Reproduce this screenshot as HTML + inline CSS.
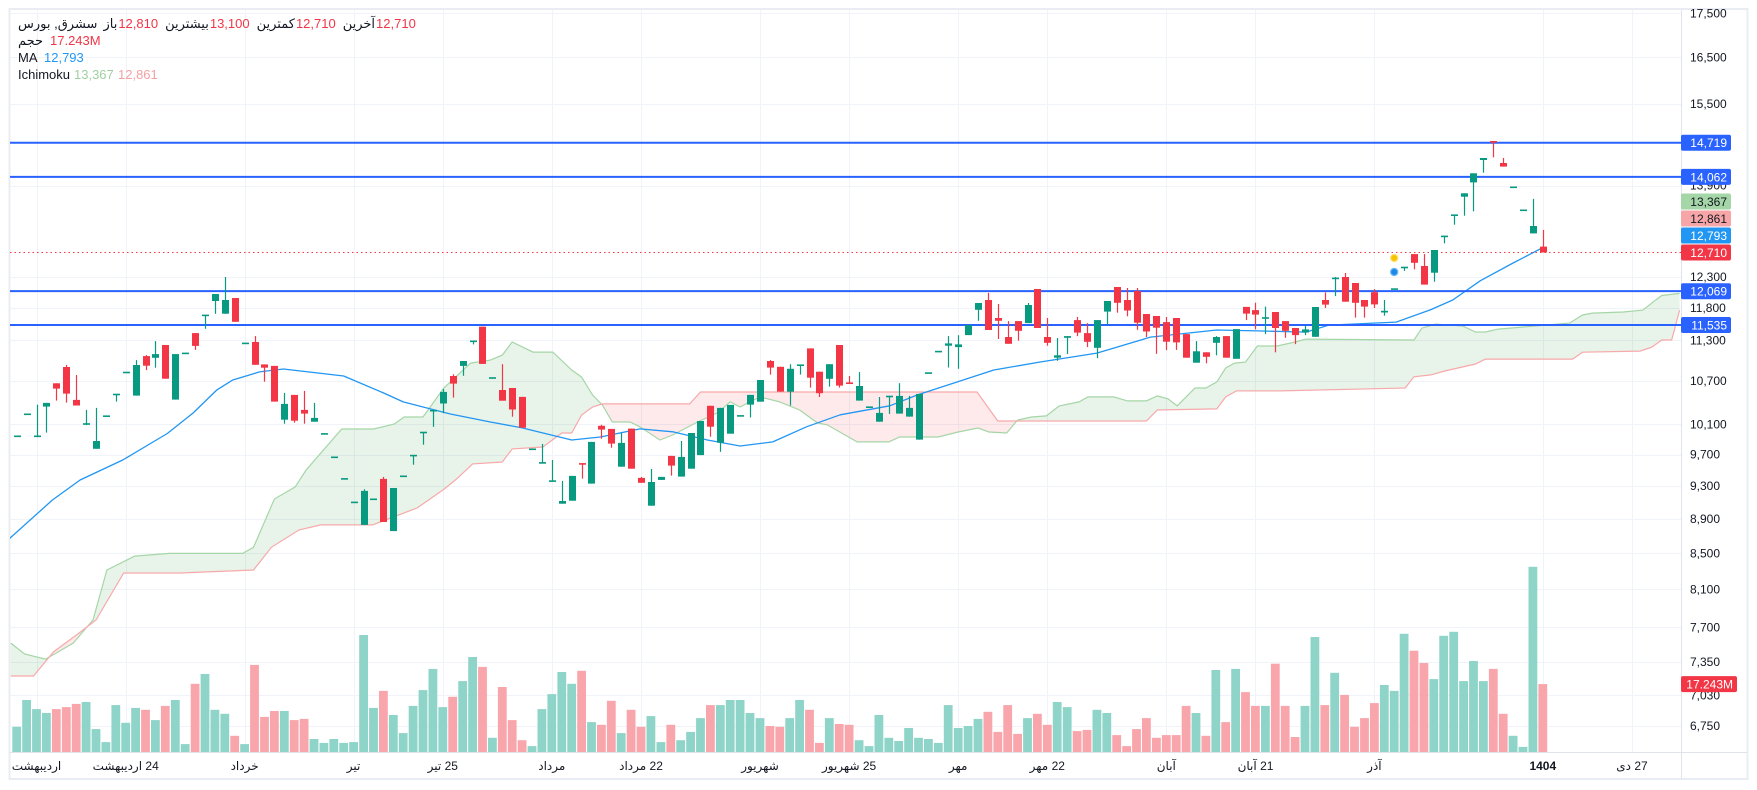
<!DOCTYPE html>
<html><head><meta charset="utf-8">
<style>
html,body{margin:0;padding:0;background:#fff;width:1757px;height:790px;overflow:hidden;font-family:"Liberation Sans","DejaVu Sans",sans-serif;}
#wrap{position:relative;width:1757px;height:790px;}
svg{position:absolute;left:0;top:0;}
.lg{position:absolute;font-size:13px;white-space:nowrap;color:#131722;line-height:16px;}
.row{position:absolute;left:18px;top:16px;display:flex;direction:ltr;font-size:13px;line-height:16px;white-space:nowrap;color:#131722;}
.row span{display:inline-block;}
.tl{position:absolute;top:759px;font-size:12px;color:#131722;transform:translateX(-50%);white-space:nowrap;line-height:14px;}
</style></head>
<body>
<div id="wrap">
<svg id="chart" width="1757" height="790"></svg>
<div class="row">
<span dir="rtl">سشرق, بورس</span>
<span dir="rtl" style="margin-left:6px">باز</span>
<span style="color:#f23645;margin-left:1px">12,810</span>
<span dir="rtl" style="margin-left:7px">بیشترین</span>
<span style="color:#f23645;margin-left:1px">13,100</span>
<span dir="rtl" style="margin-left:7px">کمترین</span>
<span style="color:#f23645;margin-left:1px">12,710</span>
<span dir="rtl" style="margin-left:7px">آخرین</span>
<span style="color:#f23645;margin-left:1px">12,710</span>
</div>
<div class="lg" style="left:18px;top:33px;">حجم</div>
<div class="lg" style="left:50px;top:33px;color:#f23645">17.243M</div>
<div class="lg" style="left:18px;top:50px;">MA</div>
<div class="lg" style="left:44px;top:50px;color:#2196f3">12,793</div>
<div class="lg" style="left:18px;top:67px;">Ichimoku</div>
<div class="lg" style="left:74px;top:67px;color:#9fd0a0">13,367</div>
<div class="lg" style="left:118px;top:67px;color:#f4a0a3">12,861</div>
</div>
<script>
// ---- data ----
const openP=[9940,10238,9930,10344,10670,10906,10436,10100,9777,10211,10510,10826,10497,11066,11040,11231,10440,11105,11412,11680,11911,11710,11960,11255,11276,10943,10921,10164,10506,10298,10137,9972,9666,9390,9100,8830,9138,9390,8758,9423,9685,9990,10285,10385,10775,10921,11285,11510,10746,10576,10604,10478,9770,9590,9360,9084,9120,9590,9331,10081,10040,9545,10044,9403,9060,9377,9683,9419,9520,9694,10354,9856,9976,10215,10371,10412,10993,10908,10552,10930,11180,10837,10736,11231,10680,10426,10335,10137,10478,10247,10205,9896,10817,11132,11220,11200,11381,11773,11927,11644,11352,11596,11565,12104,11352,11042,11340,11612,11412,11190,11743,12137,11927,12070,11706,11675,11580,11644,11396,10968,11122,11265,11366,11027,11818,11768,11633,11738,11596,11489,11420,11354,11927,12270,12300,12202,11927,12053,11730,12103,12455,12683,12482,12371,12985,13355,13694,13960,14382,14747,14325,13867,13448,13039,12810];
const highP=[9940,10238,10370,10395,10670,10935,10789,10298,10325,10211,10515,10826,11007,11080,11290,11231,11095,11105,11412,11690,12023,12300,11960,11255,11366,10943,10921,10534,10506,10562,10395,9972,9666,9390,9100,9261,9138,9415,9277,9423,9690,9993,10288,10590,10800,10993,11290,11510,10746,10947,10604,10478,9770,9840,9631,9365,9428,9590,9866,10095,10040,9985,10044,9415,9515,9415,9683,9879,9985,10146,10354,10325,10367,10215,10506,10718,11007,10908,10947,10935,11180,10837,10947,11231,10775,10832,10335,10477,10490,10672,10492,10520,10817,11132,11366,11380,11534,11880,12043,11864,11596,11596,11880,12104,11644,11336,11366,11660,11565,11612,11911,12137,12120,12120,11706,11675,11660,11644,11396,11290,11122,11366,11366,11473,11818,11885,11822,11738,11596,11489,11523,11816,12050,12300,12366,12202,11927,12103,11927,12103,12460,12683,12683,12752,12988,13362,13756,14130,14421,14747,14421,13867,13448,13653,13100];
const lowP=[9940,10238,9930,9990,10427,10399,10358,10090,9777,10211,10412,10826,10497,10860,10896,10736,10440,11105,11158,11477,11710,11710,11586,11255,10937,10694,10412,10110,10123,10110,10137,9972,9666,9390,9100,8830,9138,8864,8758,9423,9570,9830,10068,10252,10469,10778,11240,10952,10746,10426,10205,10055,9770,9590,9360,9084,9120,9394,9331,9909,9790,9545,9520,9342,9060,9377,9432,9419,9520,9694,9935,9737,9976,10215,10193,10412,10795,10552,10358,10795,10610,10477,10624,10610,10665,10426,10335,10137,10243,10247,10205,9896,10817,11132,10898,10880,11381,11600,11458,11321,11250,11296,11565,11489,11220,10997,11095,11366,11200,11035,11540,11726,11670,11462,11352,11100,11155,11158,11042,10968,10960,11077,11042,11027,11612,11468,11396,11122,11340,11245,11381,11354,11800,11990,11900,11650,11650,11800,11680,12103,12400,12427,12175,12223,12866,13190,13350,13430,14140,14434,14256,13867,13448,13039,12710];
const closeP=[9940,10238,9950,10395,10595,10525,10358,10110,9879,10211,10515,10826,10935,10925,11095,10736,11095,11105,11218,11690,12023,11927,11586,11255,10937,10895,10412,10381,10150,10247,10188,9972,9666,9390,9100,9241,9138,8864,9277,9423,9690,9993,10288,10548,10666,10993,11290,10952,10746,10426,10303,10055,9770,9596,9365,9117,9428,9570,9866,10030,9844,9853,9520,9342,9352,9415,9558,9670,9985,10146,10069,10325,10367,10215,10506,10718,10896,10552,10880,10935,10750,10530,10947,10638,10665,10632,10335,10257,10490,10492,10325,10520,10817,11132,11255,11240,11534,11880,11458,11601,11250,11447,11848,11489,11265,11077,11366,11420,11280,11612,11911,11884,11760,11570,11436,11494,11281,11270,11042,11137,11055,11352,11042,11473,11712,11697,11655,11489,11447,11381,11468,11816,11854,12285,11900,11884,11823,11858,11757,12103,12460,12537,12175,12752,12988,13362,13756,14130,14421,14725,14256,13867,13448,13168,12710];
const volumeM=[6.4,13.2,10.9,9.9,10.9,11.4,12.2,12.7,5.8,2.5,11.9,7.4,11.2,10.7,8.1,11.7,13.2,2.0,17.3,19.8,10.7,9.7,4.1,2.0,22.1,8.9,10.4,10.4,8.1,8.4,3.3,2.3,3.3,2.3,2.5,29.7,11.2,15.5,9.4,4.8,11.7,15.7,21.1,11.4,14.0,18.0,24.1,21.6,3.6,16.5,8.1,3.0,1.5,10.9,14.7,20.3,17.3,20.6,7.6,6.9,13.0,4.8,10.7,6.4,9.1,2.5,6.9,3.0,5.1,8.6,11.9,11.9,13.2,13.2,9.9,8.6,6.6,6.4,8.6,13.2,10.7,2.3,8.6,7.1,6.9,3.0,1.5,9.4,3.6,2.8,6.1,3.6,3.3,2.3,11.9,6.1,6.6,8.4,10.2,5.1,11.9,4.6,8.6,9.7,6.9,12.7,11.4,5.3,5.6,10.7,9.9,4.3,1.5,5.8,8.6,3.6,4.3,4.3,11.7,9.9,4.1,20.8,7.6,21.1,15.2,11.7,11.7,22.4,11.7,3.8,11.7,29.2,11.9,20.1,14.5,6.4,8.6,12.4,17.0,15.5,30.0,25.7,22.6,18.5,29.5,30.5,18.0,23.1,18.0,21.1,9.7,4.1,1.3,47.0,17.243];
const maIdx=[-1,3.6,6.4,10.7,15.2,17.8,20.2,21.8,24.5,26.9,33,37,39,43.7,47.8,51,56,58.9,62.9,66.2,69.7,73,76.3,79.7,83.1,88.1,90.9,98.6,103.2,109,114.4,121.1,125.7,130.1,132.4,139.2,142.7,144.9,147.7,151,154];
const maVal=[8642,9129,9377,9631,9978,10255,10577,10718,10834,10877,10775,10534,10408,10243,10133,10053,9892,9932,10040,10000,9892,9813,9866,10068,10230,10354,10506,10862,10978,11110,11351,11458,11443,11427,11534,11580,11775,11927,12240,12533,12793];
const spanAIdx=[-0.6,0.8,2.9,4.0,5.7,7.7,9.1,11.9,15.4,22.8,23.9,26,28.1,29.2,32.8,36,38.1,39.1,41,43.1,45.8,47.8,49,50,52.1,54.1,56,57,58.1,59.1,60.1,61.9,62.9,64.9,66.2,68.7,70.7,72,73,75,77,79,80.8,81.8,84.8,88,89.1,93,95,97,98.1,99.9,101,102.4,103.9,105.2,107.2,108.1,110.7,112.1,114,115.1,116.2,117.1,118.9,120,121.1,122,122.9,124,125.2,127.2,129,130.1,141,141.8,143.2,145.9,147.2,148.2,149.5,156.7,158,159,162.1,164.1,165.1,166,167.8];
const spanAVal=[7540,7430,7380,7440,7540,7776,8314,8470,8500,8500,8570,9141,9290,9503,10038,10038,10106,10200,10200,10604,10963,11007,11080,11276,11125,11125,10862,10760,10506,10366,10133,10133,10066,9892,9958,10133,10256,10408,10338,10478,10408,10297,10120,10093,9866,9866,9932,9932,9998,10052,9998,9985,10160,10200,10215,10353,10408,10478,10478,10422,10422,10492,10450,10353,10604,10604,10690,10891,10963,10978,11216,11216,11276,11320,11306,11488,11550,11520,11428,11428,11473,11565,11690,11720,11738,11768,11893,12000,12033];
const spanBIdx=[-0.6,1.7,3.7,6.3,8,10.8,16.5,23.9,25.7,28.5,30.7,35.9,40.4,43.1,44.4,46,49,50,53.1,55,56,57,58.1,59.1,67.9,69,96.9,99,114,115.1,121.1,122,123.1,127.5,140.1,141,142.7,144.1,147.2,148.2,157,158,163.8,165,166,167,167.8];
const spanBVal=[7215,7215,7450,7642,7776,8280,8280,8314,8570,8771,8830,8830,9032,9260,9390,9580,9605,9774,9800,9985,9985,10228,10338,10380,10380,10547,10547,10146,10146,10297,10311,10478,10562,10562,10604,10763,10791,10848,10949,11021,11021,11124,11140,11200,11306,11306,11768];
const levels=[14719,14062,12069,11535];
const priceTicks=[17500,16500,15500,13900,12300,11800,11300,10700,10100,9700,9300,8900,8500,8100,7700,7350,7030,6750];
const tickText=["17,500","16,500","15,500","13,900","12,300","11,800","11,300","10,700","10,100","9,700","9,300","8,900","8,500","8,100","7,700","7,350","7,030","6,750"];
const timeIdx=[2,11,23,34,43,54,63,75,84,95,104,116,125,137,154,163];
const timeText=["اردیبهشت","24 اردیبهشت","خرداد","تیر","25 تیر","مرداد","22 مرداد","شهریور","25 شهریور","مهر","22 مهر","آبان","21 آبان","آذر","1404","27 دی"];
const tagVals=[12710,12793,12861,13367];
const tagText=["12,710","12,793","12,861","13,367"];
const tagBg=["#f23645","#2196f3","#f7a6a8","#a5d6a7"];
const tagFg=["#fff","#fff","#131722","#131722"];
const markerIdx=139;

// ---- scales ----
const X0=16.7, DX=9.91;
function xOf(i){return X0+DX*i;}
const Y0=277, P0=12300, K=748;
function yOf(p){return Y0-K*Math.log(p/P0);}
const VBASE=752, VK=3.94;
function yVol(v){return VBASE-v*VK;}
const PL=10, PR=1681, PT=10, PB=752;

const NS="http://www.w3.org/2000/svg";
const svg=document.getElementById('chart');
function mk(tag,attrs,parent){const e=document.createElementNS(NS,tag);for(const k in attrs)e.setAttribute(k,attrs[k]);(parent||svg).appendChild(e);return e;}

const defs=mk('defs',{});
const cp=mk('clipPath',{id:'plotclip'},defs);
mk('rect',{x:PL,y:PT,width:PR-PL,height:PB-PT},cp);

const frame=mk('rect',{x:9.5,y:9,width:1738,height:770,fill:'none',stroke:'#e9ecf2','stroke-width':2});



const grid=mk('g',{});


priceTicks.forEach(p=>{const y=Math.round(yOf(p))+0.5;const l=mk('line',{x1:PL,x2:PR,y1:y,y2:y,stroke:'#f0f3fa','stroke-width':1},grid);

});
timeIdx.forEach(i=>{const x=Math.round(xOf(i))+0.5;const l=mk('line',{x1:x,x2:x,y1:PT,y2:PB,stroke:'#f0f3fa','stroke-width':1},grid);

});

const plot=mk('g',{'clip-path':'url(#plotclip)'});



function interp(idxs,vals,t){if(t<=idxs[0])return vals[0];for(let k=1;k<idxs.length;k++){if(t<=idxs[k]){const f=(t-idxs[k-1])/(idxs[k]-idxs[k-1]);return vals[k-1]+(vals[k]-vals[k-1])*f;}}return vals[vals.length-1];}
const cloud=mk('g',{},plot);


const t0=Math.max(spanAIdx[0],spanBIdx[0]), t1=Math.min(spanAIdx[spanAIdx.length-1],spanBIdx[spanBIdx.length-1]);
const step=0.2;
let curUp=null, topPts=[], botPts=[];
function flush(){if(topPts.length<2)return;const pts=topPts.concat(botPts.slice().reverse()).map(p=>p.join(',')).join(' ');
const pg=mk('polygon',{points:pts,fill:curUp?'rgba(67,160,71,0.12)':'rgba(242,54,69,0.11)',stroke:'none'},cloud);

}
for(let t=t0;t<=t1+1e-9;t+=step){const a=interp(spanAIdx,spanAVal,t),b=interp(spanBIdx,spanBVal,t);const up=a>=b;const x=xOf(t);
if(curUp===null)curUp=up;
if(up!==curUp){topPts.push([x,yOf(a)]);botPts.push([x,yOf(b)]);flush();curUp=up;topPts=[[x,yOf(a)]];botPts=[[x,yOf(b)]];}
else{topPts.push([x,yOf(a)]);botPts.push([x,yOf(b)]);}}
flush();
const la=mk('polyline',{points:spanAIdx.map((t,k)=>xOf(t).toFixed(1)+','+yOf(spanAVal[k]).toFixed(1)).join(' '),fill:'none',stroke:'#a5d6a7','stroke-width':1.2},plot);


const lb=mk('polyline',{points:spanBIdx.map((t,k)=>xOf(t).toFixed(1)+','+yOf(spanBVal[k]).toFixed(1)).join(' '),fill:'none',stroke:'#f7a9aa','stroke-width':1.2},plot);



const vg=mk('g',{},plot);


volumeM.forEach((v,i)=>{const up=closeP[i]>=openP[i];const y=yVol(v);
const r=mk('rect',{x:(xOf(i)-4.4).toFixed(1),y:y.toFixed(1),width:8.8,height:(VBASE-y).toFixed(1),fill:up?'#8fd4c8':'#f8a6ab'},vg);

});

const ma=mk('polyline',{points:maIdx.map((t,k)=>xOf(t).toFixed(1)+','+yOf(maVal[k]).toFixed(1)).join(' '),fill:'none',stroke:'#2196f3','stroke-width':1.3,'stroke-linejoin':'round'},plot);



levels.forEach(p=>{const y=yOf(p);const l=mk('line',{x1:PL,x2:PR,y1:y,y2:y,stroke:'#2962ff','stroke-width':2},plot);

});

const cy=yOf(closeP[closeP.length-1]);
const cl=mk('line',{x1:PL,x2:PR,y1:cy,y2:cy,stroke:'#f23645','stroke-width':1,'stroke-dasharray':'1.5 3'},plot);



const cg=mk('g',{},plot);


openP.forEach((o,i)=>{const c=closeP[i],h=highP[i],l=lowP[i];const up=c>=o;const col=up?'#089981':'#f23645';const x=Math.round(xOf(i))+0.5;
const g=mk('g',{},cg);


const w=mk('line',{x1:x,x2:x,y1:yOf(h).toFixed(1),y2:yOf(l).toFixed(1),stroke:col,'stroke-width':1.2},g);


let yt=yOf(Math.max(o,c)),yb=yOf(Math.min(o,c));if(yb-yt<1.6){const m=(yt+yb)/2;yt=m-0.8;yb=m+0.8;}
const b=mk('rect',{x:x-3.5,y:yt.toFixed(1),width:7,height:(yb-yt).toFixed(1),fill:col},g);

});

const mx=xOf(markerIdx);
const m1=mk('circle',{cx:mx,cy:258,r:3.6,fill:'#f7c500',stroke:'#ffe17a','stroke-width':1.2},plot);


const m2=mk('circle',{cx:mx,cy:272,r:3.6,fill:'#1e88e5',stroke:'#6ab8f7','stroke-width':1.2},plot);



const sep=mk('line',{x1:PR+0.5,x2:PR+0.5,y1:PT,y2:779,stroke:'#e0e3eb','stroke-width':1});


const sep2=mk('line',{x1:PL,x2:1747,y1:PB+0.5,y2:PB+0.5,stroke:'#e0e3eb','stroke-width':1});



const pa=mk('g',{});


priceTicks.forEach((p,k)=>{const t=mk('text',{x:1690,y:(yOf(p)+4).toFixed(1),'font-size':12,fill:'#131722','font-family':'Liberation Sans, sans-serif'},pa);t.textContent=tickText[k];

});

function tag(y,txt,bg,fg,name){const g=mk('g',{},pa);


mk('rect',{x:1681,y:(y-8).toFixed(1),width:50,height:16,rx:2,fill:bg},g);
const t=mk('text',{x:1727,y:(y+4.5).toFixed(1),'font-size':12,fill:fg,'text-anchor':'end','font-family':'Liberation Sans, sans-serif'},g);t.textContent=txt;}
levels.forEach(p=>{tag(yOf(p),p.toLocaleString('en-US'),'#2962ff','#fff','level-price-tag');});
let prevY=1e9;
tagVals.forEach((v,k)=>{let y=Math.min(yOf(v),prevY-17);prevY=y;tag(y,tagText[k],tagBg[k],tagFg[k],'indicator-price-tag');});
const vy=yVol(volumeM[volumeM.length-1]);
const vgp=mk('g',{},pa);


mk('rect',{x:1681,y:vy-8,width:56,height:16,rx:2,fill:'#f23645'},vgp);
const vt=mk('text',{x:1733,y:vy+4.5,'font-size':12,fill:'#fff','text-anchor':'end','font-family':'Liberation Sans, sans-serif'},vgp);vt.textContent='17.243M';

const wrap=document.getElementById('wrap');
timeIdx.forEach((i,k)=>{const d=document.createElement('div');d.className='tl';d.dir='rtl';d.style.left=xOf(i).toFixed(1)+'px';d.textContent=timeText[k];if(timeText[k]==='1404')d.style.fontWeight='bold';


wrap.appendChild(d);});
</script>
</body></html>
